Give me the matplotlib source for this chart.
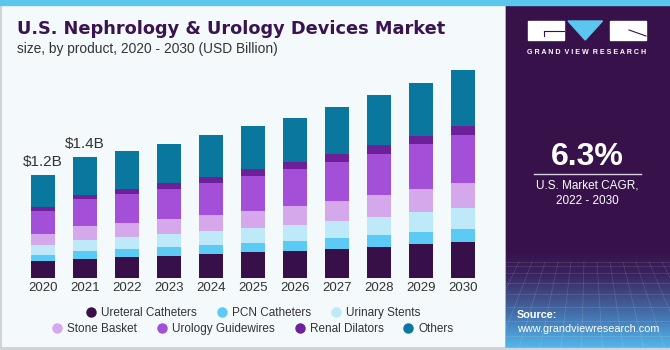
import matplotlib
matplotlib.use("Agg")
import matplotlib.pyplot as plt
import numpy as np
from matplotlib.lines import Line2D
from matplotlib.patches import Rectangle, Polygon
from matplotlib.colors import LinearSegmentedColormap

plt.rcParams['font.family'] = ['Liberation Sans', 'DejaVu Sans']

years = ['2020', '2021', '2022', '2023', '2024', '2025', '2026', '2027', '2028', '2029', '2030']
segments = ['Ureteral Catheters', 'PCN Catheters', 'Urinary Stents', 'Stone Basket',
            'Urology Guidewires', 'Renal Dilators', 'Others']
ureteral_catheters = [0.200, 0.227, 0.246, 0.261, 0.281, 0.301, 0.319, 0.342, 0.365, 0.393, 0.420]
pcn_catheters      = [0.069, 0.084, 0.089, 0.097, 0.101, 0.108, 0.116, 0.124, 0.132, 0.142, 0.154]
urinary_stents     = [0.116, 0.134, 0.142, 0.154, 0.165, 0.177, 0.185, 0.200, 0.215, 0.231, 0.243]
stone_basket       = [0.131, 0.162, 0.165, 0.173, 0.188, 0.197, 0.220, 0.231, 0.247, 0.266, 0.286]
urology_guidewires = [0.266, 0.305, 0.335, 0.350, 0.370, 0.405, 0.428, 0.451, 0.481, 0.520, 0.555]
renal_dilators     = [0.046, 0.053, 0.058, 0.066, 0.069, 0.077, 0.081, 0.089, 0.097, 0.096, 0.108]
others             = [0.366, 0.439, 0.436, 0.447, 0.486, 0.494, 0.509, 0.540, 0.582, 0.609, 0.644]
value_labels = {0: '$1.2B', 1: '$1.4B'}
colors = ['#37104A', '#5BCAF5', '#BDE9F9', '#D5A8EC', '#A34FD7', '#6E1F9A', '#0A779F']

W, H = 670, 350
fig = plt.figure(figsize=(W / 100, H / 100), dpi=100)

# background drawing axes in pixel coordinates
bg = fig.add_axes([0, 0, 1, 1])
bg.set_xlim(0, W)
bg.set_ylim(H, 0)
bg.axis('off')
bg.add_patch(Rectangle((0, 0), W, H, color='#F4F9FC', zorder=0))
bg.add_patch(Rectangle((0.5, 0), 505, 348, fill=False, edgecolor='#C8CCD0', lw=1.2, zorder=1))
# right panel
bg.add_patch(Rectangle((506, 0), W - 506, H, color='#37124A', zorder=1))
grad = LinearSegmentedColormap.from_list('g', ['#37124A', '#3A2460', '#40528C', '#4783BE', '#54B6EA'])
gvals = np.linspace(0, 1, 100).reshape(-1, 1)
bg.imshow(gvals, cmap=grad, extent=(506, W, 348, 250), aspect='auto', zorder=2)
# faint grid pattern
for k in range(14):
    xx = 506 + k * 13
    bg.plot([xx + (xx - 588) * 0.6, xx], [348, 262], color='white', lw=0.4, alpha=0.18, zorder=3)
for k in range(8):
    yy = 262 + (k ** 1.5) * 4
    bg.plot([506, W], [yy, yy], color='white', lw=0.4, alpha=0.18, zorder=3)
bg.add_patch(Rectangle((0, 348), W, 2, color='#D0D4D8', zorder=3))
# top strip
bg.add_patch(Rectangle((0, 0), W, 5, color='#5BC6EE', zorder=4))

# logo
bg.add_patch(Rectangle((528, 21), 36, 19, color='white', zorder=5))
bg.plot([544, 564], [31, 31], color='#37124A', lw=0.8, zorder=6)
bg.plot([544, 544], [31, 36], color='#37124A', lw=0.8, zorder=6)
bg.add_patch(Polygon([[568, 21], [602.5, 21], [585.2, 40]], color='#5BC6EE', zorder=5))
bg.add_patch(Rectangle((610, 21), 36, 19, color='white', zorder=5))
bg.plot([629, 646], [30, 36], color='#37124A', lw=0.8, zorder=6)
bg.text(587, 52, 'G R A N D  V I E W  R E S E A R C H', color='white',
        fontsize=5.1, fontweight='bold', ha='center', va='center', zorder=6)

# CAGR
bg.text(587, 157, '6.3%', color='white', fontsize=23, fontweight='bold', ha='center', va='center', zorder=6)
bg.plot([534, 641], [173.5, 173.5], color='#D8D0DE', lw=1, zorder=6)
bg.text(587, 186, 'U.S. Market CAGR,', color='white', fontsize=8.5, ha='center', va='center', zorder=6)
bg.text(587, 201, '2022 - 2030', color='white', fontsize=8.5, ha='center', va='center', zorder=6)
bg.text(517, 315, 'Source:', color='white', fontsize=7.8, fontweight='bold', ha='left', va='center', zorder=6)
bg.text(517, 329.5, 'www.grandviewresearch.com', color='white', fontsize=7.8, ha='left', va='center', zorder=6)

# titles
bg.text(17, 29, 'U.S. Nephrology & Urology Devices Market', color='#3A1450', fontsize=12.8,
        fontweight='bold', family=['DejaVu Sans'], ha='left', va='center', zorder=6)
bg.text(17, 49.5, 'size, by product, 2020 - 2030 (USD Billion)', color='#333333', fontsize=9.9,
        ha='left', va='center', zorder=6)

# chart axes
spacing = 42.0
x0 = 42.8
xl, xr = -0.7, 10.7
left_px = x0 + xl * spacing
right_px = x0 + xr * spacing
base_px = 278.3
top_px = 60
ppb = 86.5
ytop = (base_px - top_px) / ppb
ax = fig.add_axes([left_px / W, (H - base_px) / H, (right_px - left_px) / W, (base_px - top_px) / H])
ax.set_xlim(xl, xr)
ax.set_ylim(0, ytop)
ax.patch.set_alpha(0)
for s in ax.spines.values():
    s.set_visible(False)
ax.set_yticks([])
x = np.arange(len(years))
ax.set_xticks(x)
ax.set_xticklabels(years, fontsize=9.5, color='#333333')
ax.tick_params(axis='x', length=0, pad=3)

series = [ureteral_catheters, pcn_catheters, urinary_stents, stone_basket,
          urology_guidewires, renal_dilators, others]
bottom = np.zeros(len(years))
for name, vals, c in zip(segments, series, colors):
    ax.bar(x, vals, bottom=bottom, width=24 / spacing, color=c, edgecolor='none', label=name)
    bottom += np.array(vals)

for i, lab in value_labels.items():
    ax.annotate(lab, (x[i], bottom[i]), xytext=(0, 4), textcoords='offset points',
                ha='center', va='bottom', fontsize=11, color='#333333')

handles = [Line2D([], [], marker='o', ls='none', markersize=6.5, color=c) for c in colors]
leg_kw = dict(loc='center', frameon=False, fontsize=8.5, handletextpad=0.35, columnspacing=1.6,
              handlelength=1.0, borderpad=0, labelcolor='#333333')
fig.legend(handles[:3], segments[:3], bbox_to_anchor=(252.5 / W, (H - 312.7) / H), ncol=3, **leg_kw)
fig.legend(handles[3:], segments[3:], bbox_to_anchor=(252.5 / W, (H - 329) / H), ncol=4, **leg_kw)

fig.savefig('out.png', dpi=100)
